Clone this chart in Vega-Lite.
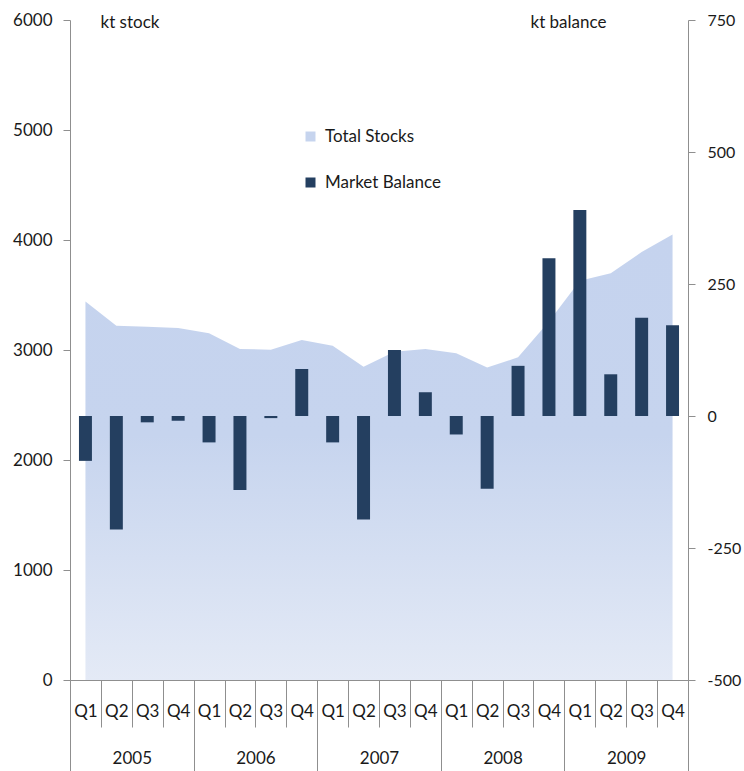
{
  "$schema": "https://vega.github.io/schema/vega-lite/v6.json",
  "width": 618,
  "height": 660,
  "autosize": {"type": "none"},
  "padding": {"left": 70, "top": 20, "right": 56, "bottom": 91},
  "background": "white",
  "config": {
    "font": "Lato",
    "view": {"stroke": null},
    "axis": {
      "labelFont": "Lato",
      "labelFontSize": 17,
      "labelColor": "#1a1a1a",
      "domainColor": "#8f8f8f",
      "tickColor": "#8f8f8f",
      "grid": false,
      "titleFont": "Lato",
      "titleFontSize": 17,
      "titleFontWeight": "normal",
      "titleColor": "#1a1a1a"
    },
    "legend": {"labelFont": "Lato", "labelFontSize": 17, "labelColor": "#1a1a1a"}
  },
  "datasets": {
    "main": [
      {"period": "2005 Q1", "year": "2005", "stock": 3440, "balance": -85},
      {"period": "2005 Q2", "year": "2005", "stock": 3221, "balance": -215},
      {"period": "2005 Q3", "year": "2005", "stock": 3212, "balance": -12},
      {"period": "2005 Q4", "year": "2005", "stock": 3200, "balance": -9},
      {"period": "2006 Q1", "year": "2006", "stock": 3152, "balance": -50},
      {"period": "2006 Q2", "year": "2006", "stock": 3009, "balance": -140},
      {"period": "2006 Q3", "year": "2006", "stock": 3003, "balance": -4},
      {"period": "2006 Q4", "year": "2006", "stock": 3091, "balance": 89},
      {"period": "2007 Q1", "year": "2007", "stock": 3039, "balance": -50},
      {"period": "2007 Q2", "year": "2007", "stock": 2848, "balance": -196},
      {"period": "2007 Q3", "year": "2007", "stock": 2985, "balance": 125},
      {"period": "2007 Q4", "year": "2007", "stock": 3009, "balance": 45},
      {"period": "2008 Q1", "year": "2008", "stock": 2970, "balance": -35},
      {"period": "2008 Q2", "year": "2008", "stock": 2842, "balance": -138},
      {"period": "2008 Q3", "year": "2008", "stock": 2933, "balance": 95},
      {"period": "2008 Q4", "year": "2008", "stock": 3258, "balance": 299},
      {"period": "2009 Q1", "year": "2009", "stock": 3630, "balance": 390},
      {"period": "2009 Q2", "year": "2009", "stock": 3697, "balance": 79},
      {"period": "2009 Q3", "year": "2009", "stock": 3890, "balance": 186},
      {"period": "2009 Q4", "year": "2009", "stock": 4050, "balance": 172}
    ],
    "legend": [
      {"series": "Total Stocks"},
      {"series": "Market Balance"}
    ]
  },
  "layer": [
    {
      "data": {"name": "main"},
      "mark": {
        "type": "area",
        "color": {
          "gradient": "linear",
          "x1": 0, "y1": 0, "x2": 0, "y2": 1,
          "stops": [
            {"offset": 0, "color": "#c5d3ee"},
            {"offset": 0.45, "color": "#c6d4ee"},
            {"offset": 1, "color": "#e4eaf6"}
          ]
        }
      },
      "encoding": {
        "x": {
          "field": "period", "type": "nominal", "sort": null, "bandPosition": 0.5,
          "scale": {"paddingInner": 0, "paddingOuter": 0},
          "axis": {
            "orient": "bottom",
            "title": null,
            "labelExpr": "split(datum.value, ' ')[1]",
            "labelAngle": 0,
            "labelOverlap": false,
            "labelBaseline": "middle",
            "tickBand": "extent",
            "tickSize": 47,
            "labelPadding": -16
          }
        },
        "y": {
          "field": "stock", "type": "quantitative",
          "scale": {"domain": [0, 6000], "nice": false, "zero": false},
          "axis": {
            "orient": "left",
            "values": [0, 1000, 2000, 3000, 4000, 5000, 6000],
            "labelExpr": "datum.value + ''",
            "tickSize": 7,
            "labelPadding": 11,
            "title": "kt stock",
            "titleAngle": 0,
            "titleX": 30,
            "titleY": 2,
            "titleAlign": "left",
            "titleBaseline": "middle"
          }
        }
      }
    },
    {
      "data": {"name": "main"},
      "mark": {"type": "bar", "color": "#243f60", "width": {"band": 0.42}},
      "encoding": {
        "x": {
          "field": "period", "type": "nominal", "sort": null,
          "scale": {"paddingInner": 0, "paddingOuter": 0},
          "axis": null
        },
        "y": {
          "field": "balance", "type": "quantitative",
          "scale": {"domain": [-500, 750], "nice": false, "zero": false},
          "axis": {
            "orient": "right",
            "values": [-500, -250, 0, 250, 500, 750],
            "labelExpr": "datum.value + ''",
            "labelFontSize": 16,
            "tickSize": 7,
            "labelPadding": 12,
            "title": "kt balance",
            "titleAngle": 0,
            "titleX": -158,
            "titleY": 2,
            "titleAlign": "left",
            "titleBaseline": "middle"
          }
        }
      }
    },
    {
      "data": {"name": "main"},
      "mark": {"type": "text", "opacity": 0},
      "encoding": {
        "x": {
          "field": "year", "type": "nominal", "sort": null,
          "scale": {"paddingInner": 0, "paddingOuter": 0},
          "axis": {
            "orient": "bottom",
            "title": null,
            "labelAngle": 0,
            "labelOverlap": false,
            "labelBaseline": "middle",
            "tickBand": "extent",
            "tickSize": 91,
            "labelPadding": -13,
            "domain": false
          }
        },
        "text": {"field": "year"}
      }
    },
    {
      "data": {"name": "legend"},
      "mark": {"type": "square", "opacity": 0},
      "encoding": {
        "color": {
          "field": "series", "type": "nominal",
          "scale": {"domain": ["Total Stocks", "Market Balance"], "range": ["#c6d4ee", "#243f60"]},
          "legend": {
            "orient": "none",
            "legendX": 232,
            "legendY": 108,
            "title": null,
            "padding": 0,
            "symbolType": "square",
            "symbolSize": 100,
            "symbolOpacity": 1,
            "symbolStrokeWidth": 0,
            "labelOffset": 6,
            "rowPadding": 28
          }
        }
      }
    }
  ],
  "resolve": {"scale": {"x": "independent", "y": "independent"}}
}
